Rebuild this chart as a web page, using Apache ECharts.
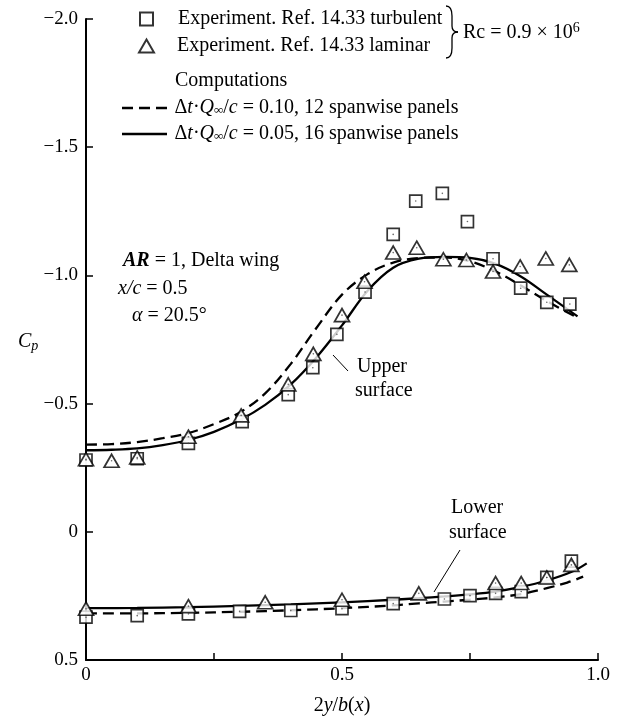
<!DOCTYPE html>
<html>
<head>
<meta charset="utf-8">
<script src="https://cdn.jsdelivr.net/npm/echarts@6/dist/echarts.min.js"></script>
<style>html,body{margin:0;padding:0;background:#fff}#c{width:624px;height:721px}</style>
</head>
<body>
<div id="c"></div>
<script>
// ---- data ----
const nameTurb = 'Experiment. Ref. 14.33 turbulent';
const nameLam = 'Experiment. Ref. 14.33 laminar';
const nameDash = 'Δt·Q∞/c = 0.10, 12 spanwise panels';
const nameSolid = 'Δt·Q∞/c = 0.05, 16 spanwise panels';

const upperTurbX = [0, 0.1, 0.2, 0.305, 0.395, 0.443, 0.49, 0.545, 0.6, 0.644, 0.696, 0.745, 0.795, 0.849, 0.9, 0.945];
const upperTurbCp = [-0.28, -0.285, -0.345, -0.43, -0.535, -0.64, -0.77, -0.935, -1.16, -1.29, -1.32, -1.21, -1.065, -0.95, -0.895, -0.888];
const upperLamX = [0, 0.05, 0.1, 0.2, 0.303, 0.395, 0.444, 0.5, 0.544, 0.6, 0.646, 0.698, 0.743, 0.795, 0.848, 0.898, 0.944];
const upperLamCp = [-0.283, -0.277, -0.29, -0.371, -0.454, -0.575, -0.694, -0.845, -0.975, -1.089, -1.108, -1.063, -1.06, -1.015, -1.035, -1.066, -1.041];

const lowerTurbX = [0, 0.1, 0.2, 0.3, 0.4, 0.5, 0.6, 0.7, 0.75, 0.8, 0.85, 0.9, 0.948];
const lowerTurbCp = [0.333, 0.327, 0.32, 0.31, 0.307, 0.3, 0.28, 0.262, 0.249, 0.24, 0.233, 0.178, 0.114];
const lowerLamX = [0, 0.2, 0.35, 0.5, 0.65, 0.8, 0.85, 0.9, 0.948];
const lowerLamCp = [0.3, 0.29, 0.275, 0.265, 0.24, 0.2, 0.2, 0.178, 0.129];

const upperCurveX = [0, 0.05, 0.1, 0.15, 0.2, 0.25, 0.3, 0.35, 0.4, 0.45, 0.5, 0.55, 0.6, 0.65, 0.7, 0.75, 0.8, 0.85, 0.9, 0.96];
const upperDashCp = [-0.34, -0.342, -0.35, -0.365, -0.385, -0.42, -0.465, -0.54, -0.655, -0.795, -0.925, -1.005, -1.05, -1.068, -1.07, -1.055, -1.015, -0.96, -0.9, -0.835];
const upperSolidCp = [-0.318, -0.32, -0.325, -0.338, -0.358, -0.39, -0.435, -0.495, -0.575, -0.68, -0.805, -0.94, -1.03, -1.065, -1.072, -1.068, -1.045, -0.995, -0.925, -0.84];

const lowerSolidX = [0, 0.1, 0.2, 0.3, 0.4, 0.5, 0.6, 0.65, 0.7, 0.75, 0.8, 0.85, 0.9, 0.95, 0.978];
const lowerSolidCp = [0.298, 0.297, 0.294, 0.289, 0.283, 0.275, 0.265, 0.259, 0.252, 0.244, 0.233, 0.215, 0.19, 0.155, 0.123];
const lowerDashX = [0, 0.1, 0.2, 0.3, 0.4, 0.5, 0.6, 0.65, 0.7, 0.75, 0.8, 0.85, 0.9, 0.94, 0.971];
const lowerDashCp = [0.318, 0.318, 0.316, 0.312, 0.306, 0.298, 0.287, 0.279, 0.272, 0.265, 0.256, 0.243, 0.22, 0.198, 0.175];

const xTicks = [0, 0.5, 1.0];

// ---- helpers ----
const zip = (xs, ys) => xs.map((x, i) => [x, ys[i]]);
const FONT = '"Liberation Serif", "DejaVu Serif", serif';
const FS = 20;
const richMath = {
  n: { fontFamily: FONT, fontSize: FS, color: '#000' },
  i: { fontFamily: FONT, fontSize: FS, fontStyle: 'italic', color: '#000' },
  s: { fontFamily: FONT, fontSize: 13, fontStyle: 'italic', color: '#000', padding: [6, 0, 0, 0] }
};
function mathName(name) {
  const m = name.match(/= (.*)$/);
  return '{n|Δ}{i|t}{n|·}{i|Q}{s|∞}{n|/}{i|c}{n| = ' + m[1] + '}';
}

const markerStyle = { color: '#fff', borderColor: '#000', borderWidth: 1.7 };
function scatter(name, data, symbol, size) {
  return { type: 'scatter', name, data, symbol, symbolSize: size, itemStyle: markerStyle, z: 5, silent: true };
}
function dots(data) {
  return { type: 'scatter', data, symbol: 'circle', symbolSize: 1.6, itemStyle: { color: '#444' }, z: 6, silent: true, legendHoverLink: false };
}
function curve(name, data, dashed) {
  return {
    type: 'line', name, data, smooth: 0.35, symbol: 'none', silent: true, z: 3,
    lineStyle: { color: '#000', width: 2.3, type: dashed ? [11, 6] : 'solid' },
    itemStyle: { color: '#000' }
  };
}
const bz = (x1, y1, cpx1, cpy1, cpx2, cpy2, x2, y2) => ({ type: 'bezierCurve', shape: { x1, y1, cpx1, cpy1, cpx2, cpy2, x2, y2 }, style: { fill: null, stroke: '#000', lineWidth: 1.3 } });
const ln = (x1, y1, x2, y2, w) => ({ type: 'line', shape: { x1, y1, x2, y2 }, style: { stroke: '#000', lineWidth: w || 1.3 } });

const dashIcon = 'path://M0,0h11v2.4h-11z M17,0h11v2.4h-11z M34,0h11v2.4h-11z';
const solidIcon = 'path://M0,0h45v2.4h-45z';

const chart = echarts.init(document.getElementById('c'), null, { renderer: 'canvas' });
const legendBase = {
  orient: 'vertical', selectedMode: false, padding: 0, itemGap: 0,
  textStyle: { fontFamily: FONT, fontSize: FS, color: '#000', rich: richMath }
};
chart.setOption({
  animation: false,
  backgroundColor: '#fff',
  grid: { left: 86, right: 26, top: 19, bottom: 59 },
  xAxis: {
    type: 'value', min: 0, max: 1, interval: 0.25, position: 'bottom',
    axisLine: { onZero: false, lineStyle: { color: '#000', width: 2 } },
    axisTick: { inside: true, length: 7, lineStyle: { color: '#000', width: 1.5 } },
    axisLabel: {
      color: '#000', fontFamily: FONT, fontSize: 19, margin: 6,
      formatter: v => { const k = xTicks.findIndex(t => Math.abs(t - v) < 1e-9); return k < 0 ? '' : (v === 0 ? '0' : v.toFixed(1)); }
    },
    splitLine: { show: false },
    name: '{n|2}{i|y}{n|/}{i|b}{n|(}{i|x}{n|)}', nameLocation: 'middle', nameGap: 36,
    nameTextStyle: { rich: richMath }
  },
  yAxis: {
    type: 'value', min: -2, max: 0.5, interval: 0.5, inverse: true,
    axisLine: { onZero: false, lineStyle: { color: '#000', width: 2 } },
    axisTick: { inside: true, length: 7, lineStyle: { color: '#000', width: 1.5 } },
    axisLabel: {
      color: '#000', fontFamily: FONT, fontSize: 19, margin: 8,
      formatter: v => v === 0 ? '0' : (v < 0 ? '−' + Math.abs(v).toFixed(1) : v.toFixed(1))
    },
    splitLine: { show: false }
  },
  legend: [
    Object.assign({}, legendBase, { left: 139, top: 9, data: [nameTurb], itemWidth: 13, itemHeight: 13,
      textStyle: Object.assign({}, legendBase.textStyle, { padding: [0, 0, 0, 20] }) }),
    Object.assign({}, legendBase, { left: 138, top: 36, data: [nameLam], itemWidth: 15, itemHeight: 13,
      textStyle: Object.assign({}, legendBase.textStyle, { padding: [0, 0, 0, 18] }) }),
    Object.assign({}, legendBase, { left: 122, top: 98, data: [{ name: nameDash, icon: dashIcon }], itemWidth: 46, itemHeight: 2.4,
      formatter: mathName, textStyle: Object.assign({}, legendBase.textStyle, { padding: [0, 0, 0, 2] }) }),
    Object.assign({}, legendBase, { left: 122, top: 124, data: [{ name: nameSolid, icon: solidIcon }], itemWidth: 46, itemHeight: 2.4,
      formatter: mathName, textStyle: Object.assign({}, legendBase.textStyle, { padding: [0, 0, 0, 2] }) })
  ],
  graphic: [
    { type: 'text', left: 175, top: 71, style: { text: 'Computations', font: FS + 'px ' + FONT, fill: '#000' } },
    bz(446, 6, 450, 6, 452, 10, 452, 16), ln(452, 16, 452, 26), bz(452, 26, 452, 30, 454, 32, 458, 32),
    bz(458, 32, 454, 32, 452, 34, 452, 38), ln(452, 38, 452, 48), bz(452, 48, 452, 54, 450, 58, 446, 58),
    { type: 'text', left: 463, top: 21, style: { rich: { n: { fontFamily: FONT, fontSize: FS, fill: '#000' }, sup: { fontFamily: FONT, fontSize: 14, fill: '#000', padding: [0, 0, 9, 0] } }, text: '{n|Rc = 0.9 × 10}{sup|6}' } },
    { type: 'text', left: 123, top: 251, style: { rich: { b: { fontFamily: FONT, fontSize: 20, fontStyle: 'italic', fontWeight: 'bold', fill: '#000' }, n: { fontFamily: FONT, fontSize: 20, fill: '#000' } }, text: '{b|AR}{n| = 1, Delta wing}' } },
    { type: 'text', left: 118, top: 279, style: { rich: { i: { fontFamily: FONT, fontSize: 20, fontStyle: 'italic', fill: '#000' }, n: { fontFamily: FONT, fontSize: 20, fill: '#000' } }, text: '{i|x/c}{n| = 0.5}' } },
    { type: 'text', left: 132, top: 306, style: { rich: { i: { fontFamily: FONT, fontSize: 20, fontStyle: 'italic', fill: '#000' }, n: { fontFamily: FONT, fontSize: 20, fill: '#000' } }, text: '{i|α}{n| = 20.5°}' } },
    { type: 'text', left: 18, top: 332, style: { rich: { i: { fontFamily: FONT, fontSize: 20, fontStyle: 'italic', fill: '#000' }, s: { fontFamily: FONT, fontSize: 14, fontStyle: 'italic', fill: '#000', padding: [8, 0, 0, 0] } }, text: '{i|C}{s|p}' } },
    { type: 'text', left: 357, top: 357, style: { text: 'Upper', font: '20px ' + FONT, fill: '#000' } },
    { type: 'text', left: 355, top: 381, style: { text: 'surface', font: '20px ' + FONT, fill: '#000' } },
    ln(333, 355, 348, 371, 1),
    { type: 'text', left: 451, top: 498, style: { text: 'Lower', font: '20px ' + FONT, fill: '#000' } },
    { type: 'text', left: 449, top: 523, style: { text: 'surface', font: '20px ' + FONT, fill: '#000' } },
    ln(460, 550, 434, 592, 1)
  ],
  series: [
    curve(nameDash, zip(upperCurveX, upperDashCp), true),
    curve(nameSolid, zip(upperCurveX, upperSolidCp), false),
    curve(nameDash, zip(lowerDashX, lowerDashCp), true),
    curve(nameSolid, zip(lowerSolidX, lowerSolidCp), false),
    scatter(nameTurb, zip(upperTurbX, upperTurbCp), 'rect', [12, 12]),
    scatter(nameTurb, zip(lowerTurbX, lowerTurbCp), 'rect', [12, 12]),
    scatter(nameLam, zip(upperLamX, upperLamCp), 'triangle', [15, 13]),
    scatter(nameLam, zip(lowerLamX, lowerLamCp), 'triangle', [15, 13]),
    dots(zip(upperTurbX, upperTurbCp).concat(zip(lowerTurbX, lowerTurbCp), zip(upperLamX, upperLamCp), zip(lowerLamX, lowerLamCp)))
  ]
});
</script>
</body>
</html>
